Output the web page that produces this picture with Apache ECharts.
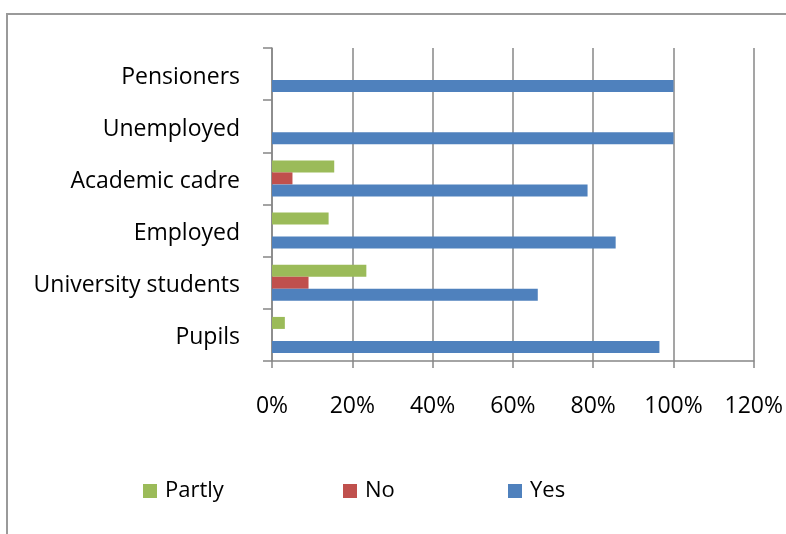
<!DOCTYPE html>
<html>
<head>
<meta charset="utf-8">
<script src="https://cdn.jsdelivr.net/npm/echarts@6/dist/echarts.min.js"></script>
<style>
  html, body { margin: 0; padding: 0; background: #ffffff; }
  #chart { width: 786px; height: 534px; }
</style>
</head>
<body>
<div id="chart"></div>
<script>
// Groups, listed from the bottom of the chart to the top
const categories = ['Pupils', 'University students', 'Employed', 'Academic cadre', 'Unemployed', 'Pensioners'];

// Share of answers per group, in percent
const yesValues = [96.5, 66.2, 85.6, 78.6, 100, 100];
const noValues = [0, 9.1, 0, 5.1, 0, 0];
const partlyValues = [3.2, 23.5, 14.1, 15.5, 0, 0];

// Value axis ticks
const axisMax = 120;
const axisStep = 20;

const FONT = 'Open Sans';
const GRID_GRAY = '#878787';

const chart = echarts.init(document.getElementById('chart'), null, { renderer: 'canvas' });

function legendAt(name, left) {
  return {
    data: [name],
    left: left,
    top: 475,
    icon: 'rect',
    itemWidth: 14,
    itemHeight: 14,
    textStyle: { fontFamily: FONT, fontSize: 22, color: '#000', padding: [0, 0, 0, 3] }
  };
}

const barCommon = {
  type: 'bar',
  barWidth: 12,
  barGap: '0%',
  animation: false
};

chart.setOption({
  backgroundColor: '#ffffff',
  animation: false,
  graphic: [{
    type: 'rect',
    shape: { x: 7, y: 14, width: 820, height: 600 },
    style: { fill: 'none', stroke: '#9a9a9a', lineWidth: 2 },
    silent: true
  }],
  legend: [
    legendAt('Partly', 138),
    legendAt('No', 338),
    legendAt('Yes', 503)
  ],
  grid: { left: 272, right: 32, top: 48, bottom: 173 },
  xAxis: {
    type: 'value',
    min: 0,
    max: axisMax,
    interval: axisStep,
    axisLine: { show: true, lineStyle: { color: GRID_GRAY, width: 1.5 } },
    axisTick: { show: true, length: 7, lineStyle: { color: GRID_GRAY, width: 1.5 } },
    splitLine: { show: true, lineStyle: { color: GRID_GRAY, width: 1.5 } },
    axisLabel: {
      formatter: '{value}%',
      fontFamily: FONT,
      fontSize: 23,
      color: '#000',
      margin: 34
    }
  },
  yAxis: {
    type: 'category',
    data: categories,
    axisLine: { show: true, lineStyle: { color: GRID_GRAY, width: 1.5 } },
    axisTick: { show: true, length: 9, lineStyle: { color: GRID_GRAY, width: 1.5 } },
    axisLabel: {
      margin: 32,
      formatter: (v) => '{c|' + v + '}',
      rich: {
        c: {
          fontFamily: FONT,
          fontSize: 23,
          color: '#000',
          padding: [6, 0, 0, 0]
        }
      }
    }
  },
  // Drawn top to bottom inside each group: Partly, No, Yes
  series: [
    Object.assign({ name: 'Partly', data: partlyValues, itemStyle: { color: '#9BBB59' } }, barCommon),
    Object.assign({ name: 'No', data: noValues, itemStyle: { color: '#C0504D' } }, barCommon),
    Object.assign({ name: 'Yes', data: yesValues, itemStyle: { color: '#4F81BD' } }, barCommon)
  ]
});
</script>
</body>
</html>
